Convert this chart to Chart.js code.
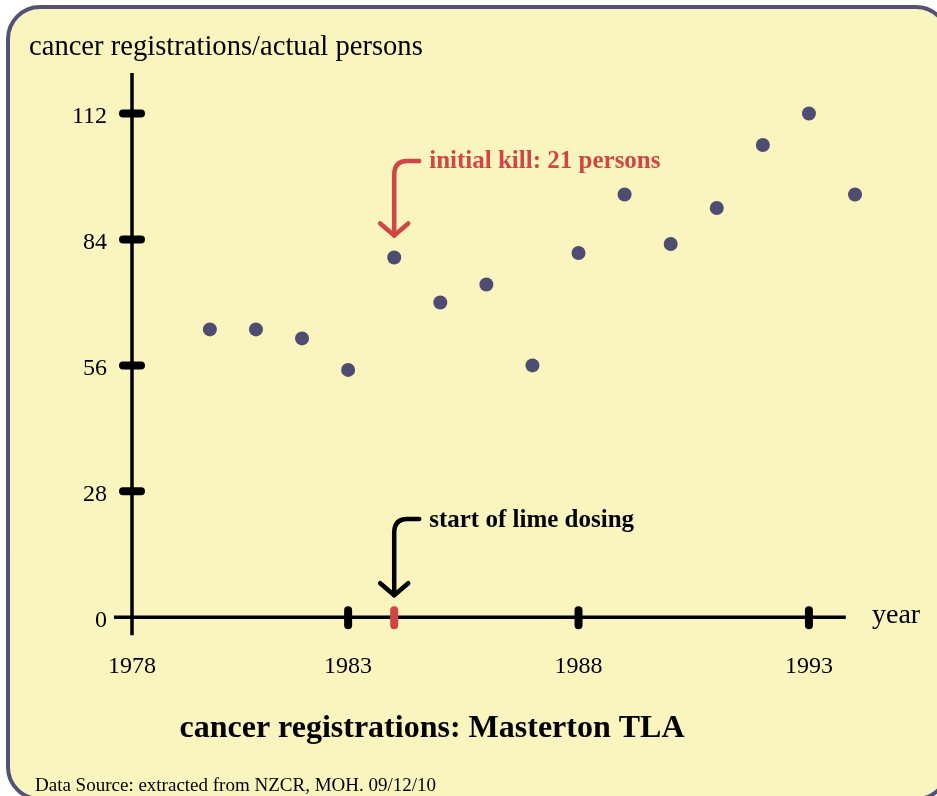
<!DOCTYPE html>
<html>
<head>
<meta charset="utf-8">
<script src="https://cdn.jsdelivr.net/npm/chart.js@4/dist/chart.umd.min.js"></script>
<style>
    html, body { margin: 0; padding: 0; background: #ffffff; overflow: hidden; }
    canvas { display: block; }
</style>
</head>
<body>
<canvas id="registrationsChart" width="937" height="796"></canvas>
<script>
// values
const years =
    [1980, 1981, 1982, 1983, 1984, 1985, 1986, 1987, 1988, 1989, 1990, 1991, 1992, 1993, 1994];

const registrations =
    [64, 64, 62, 55, 80, 70, 74, 56, 81, 94, 83, 91, 105, 112, 94];

const yearTicks =
    [1978, 1983, 1988, 1993];

const countTicks =
    [0, 28, 56, 84, 112];

const killYear = 1984;
const limeYear = 1984;

const serif = '"Liberation Serif", "Times New Roman", serif';
const ink = "#000000";
const red = "#d24545";

// axis crossing / overshoot in data units
const xAxisStart = 1977.92;
const xAxisEnd = 1993.8;
const yAxisTop = 121;
const yAxisBottom = -4;

function roundedBox(ctx, x, y, w, h, r) {
    ctx.beginPath();
    ctx.moveTo(x + r, y);
    ctx.lineTo(x + w - r, y);
    ctx.arcTo(x + w, y, x + w, y + r, r);
    ctx.lineTo(x + w, y + h - r);
    ctx.arcTo(x + w, y + h, x + w - r, y + h, r);
    ctx.lineTo(x + r, y + h);
    ctx.arcTo(x, y + h, x, y + h - r, r);
    ctx.lineTo(x, y + r);
    ctx.arcTo(x, y, x + r, y, r);
    ctx.closePath();
}

function hookArrow(ctx, ax, topY, tipY, color) {
    ctx.save();
    ctx.strokeStyle = color;
    ctx.lineWidth = 4.5;
    ctx.lineCap = "round";
    ctx.lineJoin = "round";
    ctx.beginPath();
    ctx.moveTo(ax + 25, topY);
    ctx.lineTo(ax + 13, topY);
    ctx.quadraticCurveTo(ax, topY, ax, topY + 14);
    ctx.lineTo(ax, tipY);
    ctx.stroke();
    ctx.beginPath();
    ctx.moveTo(ax - 14, tipY - 12);
    ctx.lineTo(ax, tipY);
    ctx.lineTo(ax + 14, tipY - 12);
    ctx.stroke();
    ctx.restore();
}

const decorations = {

    id: "decorations",

    beforeDraw(chart) {
        const ctx = chart.ctx;
        ctx.save();
        ctx.fillStyle = "#ffffff";
        ctx.fillRect(0, 0, chart.width, chart.height);
        roundedBox(ctx, 8, 7, 940, 792, 32);
        ctx.fillStyle = "#faf5be";
        ctx.fill();
        ctx.lineWidth = 4;
        ctx.strokeStyle = "#545178";
        ctx.stroke();
        ctx.restore();
    },

    beforeDatasetsDraw(chart) {
        const ctx = chart.ctx;
        const x = chart.scales.x;
        const y = chart.scales.y;
        const left = chart.chartArea.left;
        const zero = y.getPixelForValue(0);

        ctx.save();
        ctx.strokeStyle = ink;
        ctx.lineWidth = 3.5;
        ctx.lineCap = "butt";

        // axes
        ctx.beginPath();
        ctx.moveTo(left, y.getPixelForValue(yAxisTop));
        ctx.lineTo(left, y.getPixelForValue(yAxisBottom));
        ctx.moveTo(x.getPixelForValue(xAxisStart), zero);
        ctx.lineTo(x.getPixelForValue(xAxisEnd), zero);
        ctx.stroke();

        // tick marks
        ctx.lineWidth = 8;
        ctx.lineCap = "round";
        ctx.beginPath();
        countTicks.slice(1).forEach(v => {
            const py = y.getPixelForValue(v);
            ctx.moveTo(left - 9, py);
            ctx.lineTo(left + 9, py);
        });
        yearTicks.slice(1).forEach(v => {
            const px = x.getPixelForValue(v);
            ctx.moveTo(px, zero - 7);
            ctx.lineTo(px, zero + 8);
        });
        ctx.stroke();

        ctx.strokeStyle = red;
        ctx.beginPath();
        ctx.moveTo(x.getPixelForValue(limeYear), zero - 7);
        ctx.lineTo(x.getPixelForValue(limeYear), zero + 8);
        ctx.stroke();
        ctx.restore();
    },

    afterDraw(chart) {
        const ctx = chart.ctx;
        const x = chart.scales.x;
        const y = chart.scales.y;
        const zero = y.getPixelForValue(0);
        const killX = x.getPixelForValue(killYear);
        const killY = y.getPixelForValue(registrations[years.indexOf(killYear)]);
        const limeX = x.getPixelForValue(limeYear);

        hookArrow(ctx, killX, 161, killY - 22, red);
        hookArrow(ctx, limeX, 519, zero - 22, ink);

        ctx.save();
        ctx.textBaseline = "alphabetic";
        ctx.textAlign = "left";

        ctx.fillStyle = red;
        ctx.font = "bold 25px " + serif;
        ctx.fillText("initial kill: 21 persons", killX + 35, 168);

        ctx.fillStyle = ink;
        ctx.fillText("start of lime dosing", limeX + 35, 527);

        ctx.font = "28.6px " + serif;
        ctx.fillText("cancer registrations/actual persons", 29, 55);
        ctx.font = "28px " + serif;
        ctx.fillText("year", 872, 623);

        ctx.font = "bold 32px " + serif;
        ctx.textAlign = "center";
        ctx.fillText("cancer registrations: Masterton TLA", 432, 737);

        ctx.font = "19px " + serif;
        ctx.textAlign = "left";
        ctx.fillText("Data Source: extracted from NZCR, MOH. 09/12/10", 35, 791);
        ctx.restore();
    }

};

const ctx =
    document
        .getElementById(
            "registrationsChart"
        );

const chart =
    new Chart(ctx, {

        type: "scatter",

        data: {

            datasets: [{

                data: years.map((yr, i) => ({ x: yr, y: registrations[i] })),

                pointRadius: 7,
                pointHoverRadius: 7,
                pointBorderWidth: 0,
                pointBackgroundColor: "#4e4c71",
                showLine: false,
                clip: false

            }]

        },

        options: {

            responsive: false,
            devicePixelRatio: 1,
            animation: false,

            layout: {
                padding: { top: 73.1, right: 35.9, bottom: 0, left: 0 }
            },

            scales: {

                x: {
                    type: "linear",
                    min: 1978.31,
                    max: 1995,
                    grid: { display: false },
                    border: { display: false },
                    afterFit(scale) { scale.height = 160.8; },
                    afterBuildTicks(scale) {
                        scale.ticks = yearTicks.map(v => ({ value: Math.max(v, scale.min) }));
                    },
                    ticks: {
                        callback: (v, i) => String(yearTicks[i]),
                        font: { family: serif, size: 24 },
                        color: ink,
                        padding: 9,
                        maxRotation: 0,
                        autoSkip: false
                    }
                },

                y: {
                    min: -4,
                    max: 121,
                    grid: { display: false },
                    border: { display: false },
                    afterFit(scale) { scale.width = 132; },
                    afterBuildTicks(scale) {
                        scale.ticks = countTicks.map(v => ({ value: v }));
                    },
                    ticks: {
                        callback: (v, i) => String(countTicks[i]),
                        font: { family: serif, size: 24 },
                        color: ink,
                        padding: 17,
                        labelOffset: 3,
                        autoSkip: false
                    }
                }

            },

            plugins: {
                legend: { display: false },
                tooltip: { enabled: false }
            }

        },

        plugins: [decorations]

    });
</script>
</body>
</html>
